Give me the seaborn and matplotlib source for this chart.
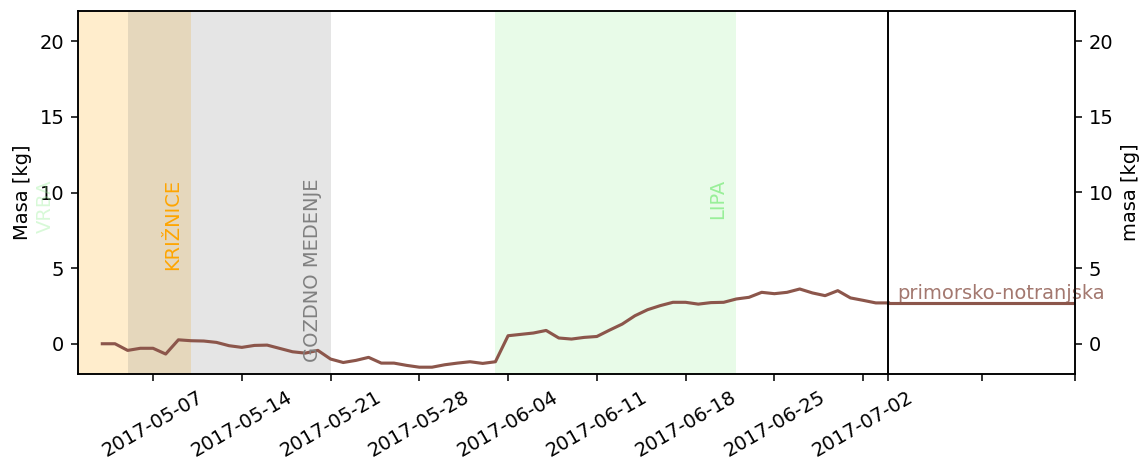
import matplotlib
matplotlib.use("Agg")
import matplotlib.pyplot as plt
import matplotlib.dates as mdates
import seaborn as sns
import pandas as pd
import numpy as np

# ---- data ----
start_date = "2017-05-03"
masa = [0.0, 0.0, -0.44, -0.3, -0.3, -0.68, 0.26, 0.2, 0.18, 0.09,
        -0.13, -0.24, -0.11, -0.09, -0.31, -0.53, -0.62, -0.44, -1.01, -1.24,
        -1.1, -0.9, -1.28, -1.28, -1.43, -1.55, -1.55, -1.39, -1.28, -1.19,
        -1.3, -1.19, 0.53, 0.62, 0.71, 0.88, 0.38, 0.31, 0.42, 0.48,
        0.9, 1.3, 1.85, 2.25, 2.52, 2.74, 2.74, 2.62, 2.72, 2.74,
        2.96, 3.07, 3.4, 3.31, 3.4, 3.62, 3.36, 3.18, 3.51, 3.03,
        2.87, 2.7, 2.7]
series_name = "primorsko-notranjska"

season_names = ["VRBA", "KRIŽNICE", "GOZDNO MEDENJE", "LIPA"]
season_start = ["2017-04-20", "2017-04-25", "2017-05-05", "2017-06-03"]
season_end = ["2017-04-30", "2017-05-10", "2017-05-21", "2017-06-22"]
season_colors = ["lightgreen", "orange", "gray", "lightgreen"]
season_text_alpha = [0.35, 1.0, 1.0, 0.9]

x_min = "2017-05-01 02:00"
x_max = "2017-07-18 17:00"
week_ticks = pd.date_range("2017-05-07", "2017-07-02", freq="7D")
y_ticks = [0, 5, 10, 15, 20]
y_lim = (-2, 22)

# ---- figure ----
dpi = 140
fig = plt.figure(figsize=(1140 / dpi, 459 / dpi), dpi=dpi)
ax = fig.add_axes([78 / 1140, 1 - 374 / 459, (1075 - 78) / 1140, (374 - 11) / 459])

dates = pd.date_range(start_date, periods=len(masa), freq="D")
df = pd.DataFrame({"datum": dates, "masa": masa})

xmin = pd.Timestamp(x_min)
xmax = pd.Timestamp(x_max)

# season spans
for name, s, e, c, ta in zip(season_names, season_start, season_end,
                             season_colors, season_text_alpha):
    ax.axvspan(pd.Timestamp(s), pd.Timestamp(e), color=c, alpha=0.2, lw=0)
    ax.text(pd.Timestamp(e) - pd.Timedelta(hours=35), 10.9, name, rotation=90,
            ha="center", va="top", color=c, alpha=ta, fontsize=10)

line_color = "#8c564b"
sns.lineplot(data=df, x="datum", y="masa", ax=ax, color=line_color, lw=1.6)

last_date = dates[-1]
last_val = masa[-1]
ext = pd.DataFrame({"datum": [last_date, xmax], "masa": [last_val, last_val]})
sns.lineplot(data=ext, x="datum", y="masa", ax=ax, color=line_color, lw=1.6)
ax.axvline(last_date, color="black", lw=1.0)
ax.text(last_date + pd.Timedelta(hours=17), last_val, series_name,
        color=line_color, alpha=0.8, ha="left", va="bottom", fontsize=10)

ax.set_xlim(xmin, xmax)
ax.set_ylim(*y_lim)
ax.set_yticks(y_ticks)

extra = [last_date, last_date + (xmax - last_date) / 2, xmax]
all_ticks = list(week_ticks) + extra
ax.set_xticks([mdates.date2num(t) for t in all_ticks])
ax.set_xticklabels([t.strftime("%Y-%m-%d") for t in week_ticks] + [""] * len(extra),
                   rotation=30, ha="center")
ax.set_xlabel("")
ax.set_ylabel("Masa [kg]")

ax2 = ax.twinx()
ax2.set_ylim(*y_lim)
ax2.set_yticks(y_ticks)
ax2.set_ylabel("masa [kg]")

fig.savefig("out.png", dpi=dpi)
